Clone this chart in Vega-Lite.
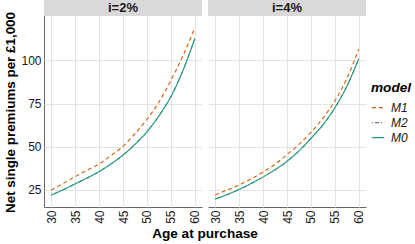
{
  "$schema": "https://vega.github.io/schema/vega-lite/v6.json",
  "padding": {"left": 3, "top": 0, "right": 2, "bottom": 2},
  "background": "white",
  "config": {
    "font": "Liberation Sans",
    "view": {"stroke": null},
    "axis": {"grid": true, "gridColor": "#E3E3E3", "gridWidth": 1, "domainColor": "#666666", "domainWidth": 1, "ticks": false, "labelColor": "#1A1A1A", "labelFontSize": 12, "labelFont": "Liberation Sans", "titleFont": "Liberation Sans", "titleFontSize": 13.4, "titleFontWeight": "bold", "titleColor": "#000000", "labelPadding": 3, "labelOverlap": false}
  },
  "data": {"values": [
    {"panel":"i=2%","model":"M1","age":30,"nsp":24.8},{"panel":"i=2%","model":"M1","age":32.5,"nsp":28.6},{"panel":"i=2%","model":"M1","age":35,"nsp":32.6},{"panel":"i=2%","model":"M1","age":37.5,"nsp":36.3},{"panel":"i=2%","model":"M1","age":40,"nsp":40.0},{"panel":"i=2%","model":"M1","age":42.5,"nsp":44.8},{"panel":"i=2%","model":"M1","age":45,"nsp":50.2},{"panel":"i=2%","model":"M1","age":47.5,"nsp":57.5},{"panel":"i=2%","model":"M1","age":50,"nsp":65.8},{"panel":"i=2%","model":"M1","age":52.5,"nsp":75.8},{"panel":"i=2%","model":"M1","age":55,"nsp":88.4},{"panel":"i=2%","model":"M1","age":57.5,"nsp":102.5},{"panel":"i=2%","model":"M1","age":60,"nsp":119.0},
    {"panel":"i=2%","model":"M2","age":30,"nsp":21.9},{"panel":"i=2%","model":"M2","age":32.5,"nsp":25.0},{"panel":"i=2%","model":"M2","age":35,"nsp":28.4},{"panel":"i=2%","model":"M2","age":37.5,"nsp":31.8},{"panel":"i=2%","model":"M2","age":40,"nsp":35.5},{"panel":"i=2%","model":"M2","age":42.5,"nsp":40.0},{"panel":"i=2%","model":"M2","age":45,"nsp":45.1},{"panel":"i=2%","model":"M2","age":47.5,"nsp":51.3},{"panel":"i=2%","model":"M2","age":50,"nsp":58.6},{"panel":"i=2%","model":"M2","age":52.5,"nsp":67.8},{"panel":"i=2%","model":"M2","age":55,"nsp":79.0},{"panel":"i=2%","model":"M2","age":57.5,"nsp":94.0},{"panel":"i=2%","model":"M2","age":60,"nsp":112.6},
    {"panel":"i=2%","model":"M0","age":30,"nsp":21.9},{"panel":"i=2%","model":"M0","age":32.5,"nsp":25.0},{"panel":"i=2%","model":"M0","age":35,"nsp":28.4},{"panel":"i=2%","model":"M0","age":37.5,"nsp":31.8},{"panel":"i=2%","model":"M0","age":40,"nsp":35.5},{"panel":"i=2%","model":"M0","age":42.5,"nsp":40.0},{"panel":"i=2%","model":"M0","age":45,"nsp":45.1},{"panel":"i=2%","model":"M0","age":47.5,"nsp":51.3},{"panel":"i=2%","model":"M0","age":50,"nsp":58.6},{"panel":"i=2%","model":"M0","age":52.5,"nsp":67.8},{"panel":"i=2%","model":"M0","age":55,"nsp":79.0},{"panel":"i=2%","model":"M0","age":57.5,"nsp":94.0},{"panel":"i=2%","model":"M0","age":60,"nsp":112.6},
    {"panel":"i=4%","model":"M1","age":30,"nsp":22.0},{"panel":"i=4%","model":"M1","age":32.5,"nsp":24.8},{"panel":"i=4%","model":"M1","age":35,"nsp":27.8},{"panel":"i=4%","model":"M1","age":37.5,"nsp":31.3},{"panel":"i=4%","model":"M1","age":40,"nsp":35.2},{"panel":"i=4%","model":"M1","age":42.5,"nsp":39.8},{"panel":"i=4%","model":"M1","age":45,"nsp":45.3},{"panel":"i=4%","model":"M1","age":47.5,"nsp":51.3},{"panel":"i=4%","model":"M1","age":50,"nsp":58.3},{"panel":"i=4%","model":"M1","age":52.5,"nsp":66.5},{"panel":"i=4%","model":"M1","age":55,"nsp":76.5},{"panel":"i=4%","model":"M1","age":57.5,"nsp":89.5},{"panel":"i=4%","model":"M1","age":60,"nsp":106.5},
    {"panel":"i=4%","model":"M2","age":30,"nsp":19.6},{"panel":"i=4%","model":"M2","age":32.5,"nsp":22.2},{"panel":"i=4%","model":"M2","age":35,"nsp":25.2},{"panel":"i=4%","model":"M2","age":37.5,"nsp":28.6},{"panel":"i=4%","model":"M2","age":40,"nsp":32.4},{"panel":"i=4%","model":"M2","age":42.5,"nsp":36.6},{"panel":"i=4%","model":"M2","age":45,"nsp":41.5},{"panel":"i=4%","model":"M2","age":47.5,"nsp":47.5},{"panel":"i=4%","model":"M2","age":50,"nsp":54.8},{"panel":"i=4%","model":"M2","age":52.5,"nsp":62.6},{"panel":"i=4%","model":"M2","age":55,"nsp":72.5},{"panel":"i=4%","model":"M2","age":57.5,"nsp":85.0},{"panel":"i=4%","model":"M2","age":60,"nsp":101.0},
    {"panel":"i=4%","model":"M0","age":30,"nsp":19.6},{"panel":"i=4%","model":"M0","age":32.5,"nsp":22.2},{"panel":"i=4%","model":"M0","age":35,"nsp":25.2},{"panel":"i=4%","model":"M0","age":37.5,"nsp":28.6},{"panel":"i=4%","model":"M0","age":40,"nsp":32.4},{"panel":"i=4%","model":"M0","age":42.5,"nsp":36.6},{"panel":"i=4%","model":"M0","age":45,"nsp":41.5},{"panel":"i=4%","model":"M0","age":47.5,"nsp":47.5},{"panel":"i=4%","model":"M0","age":50,"nsp":54.8},{"panel":"i=4%","model":"M0","age":52.5,"nsp":62.6},{"panel":"i=4%","model":"M0","age":55,"nsp":72.5},{"panel":"i=4%","model":"M0","age":57.5,"nsp":85.0},{"panel":"i=4%","model":"M0","age":60,"nsp":101.0}
  ]},
  "facet": {"column": {"field": "panel", "type": "nominal", "sort": ["i=2%", "i=4%"], "title": "Age at purchase", "header": {"labels": false, "titleOrient": "bottom", "titleFont": "Liberation Sans", "titleFontSize": 13.6, "titleFontWeight": "bold", "titleColor": "#000000", "titlePadding": -7}}},
  "spacing": 6,
  "spec": {
    "width": 158,
    "height": 207,
    "layer": [
      {
        "mark": {"type": "line", "strokeWidth": 1.1, "interpolate": "monotone"},
        "encoding": {
          "x": {"field": "age", "type": "quantitative", "scale": {"domain": [28.5, 61.5], "nice": false, "zero": false}, "axis": {"values": [30, 35, 40, 45, 50, 55, 60], "labelAngle": 270, "labelOverlap": false, "labelBound": false, "labelFlush": false, "title": null}},
          "y": {"field": "nsp", "type": "quantitative", "scale": {"domain": [15, 135], "nice": false, "zero": false}, "axis": {"values": [25, 50, 75, 100], "title": "Net single premiums per £1,000", "titlePadding": 3, "titleY": 112}},
          "color": {"field": "model", "type": "nominal", "scale": {"domain": ["M1", "M2", "M0"], "range": ["#D95F02", "#7570B3", "#1B9E77"]}, "legend": {"title": "model", "orient": "none", "legendX": 327, "legendY": 81, "symbolType": "stroke", "symbolSize": 150, "symbolStrokeWidth": 1.2, "titleFontStyle": "italic", "titleFontWeight": "bold", "titleFontSize": 13.6, "titlePadding": 6, "labelFontStyle": "italic", "labelFontSize": 12, "labelColor": "#1A1A1A", "titleColor": "#000000", "labelOffset": 6, "encode": {"symbols": {"update": {"strokeDash": {"scale": "strokeDash", "field": "value"}}}}}},
          "strokeDash": {"field": "model", "type": "nominal", "scale": {"domain": ["M1", "M2", "M0"], "range": [[4, 3], [1, 2, 4, 2], [1, 0]]}, "legend": null}
        }
      },
      {
        "transform": [{"aggregate": [{"op": "count", "as": "n"}], "groupby": ["panel"]}],
        "mark": {"type": "rect", "color": "#D9D9D9"},
        "encoding": {"x": {"datum": 28.5, "axis": {"values": [30, 35, 40, 45, 50, 55, 60], "labelAngle": 270, "labelOverlap": false, "labelBound": false, "labelFlush": false, "title": null}}, "x2": {"datum": 61.5}, "y": {"datum": 125.7, "axis": {"values": [25, 50, 75, 100], "title": "Net single premiums per £1,000", "titlePadding": 3, "titleY": 112}}, "y2": {"datum": 135}}
      },
      {
        "transform": [{"aggregate": [{"op": "count", "as": "n"}], "groupby": ["panel"]}],
        "mark": {"type": "text", "fontWeight": "bold", "fontSize": 13, "color": "#1A1A1A", "baseline": "middle"},
        "encoding": {"x": {"datum": 45, "axis": {"values": [30, 35, 40, 45, 50, 55, 60], "labelAngle": 270, "labelOverlap": false, "labelBound": false, "labelFlush": false, "title": null}}, "y": {"datum": 130.4, "axis": {"values": [25, 50, 75, 100], "title": "Net single premiums per £1,000", "titlePadding": 3, "titleY": 112}}, "text": {"field": "panel"}}
      }
    ]
  }
}
